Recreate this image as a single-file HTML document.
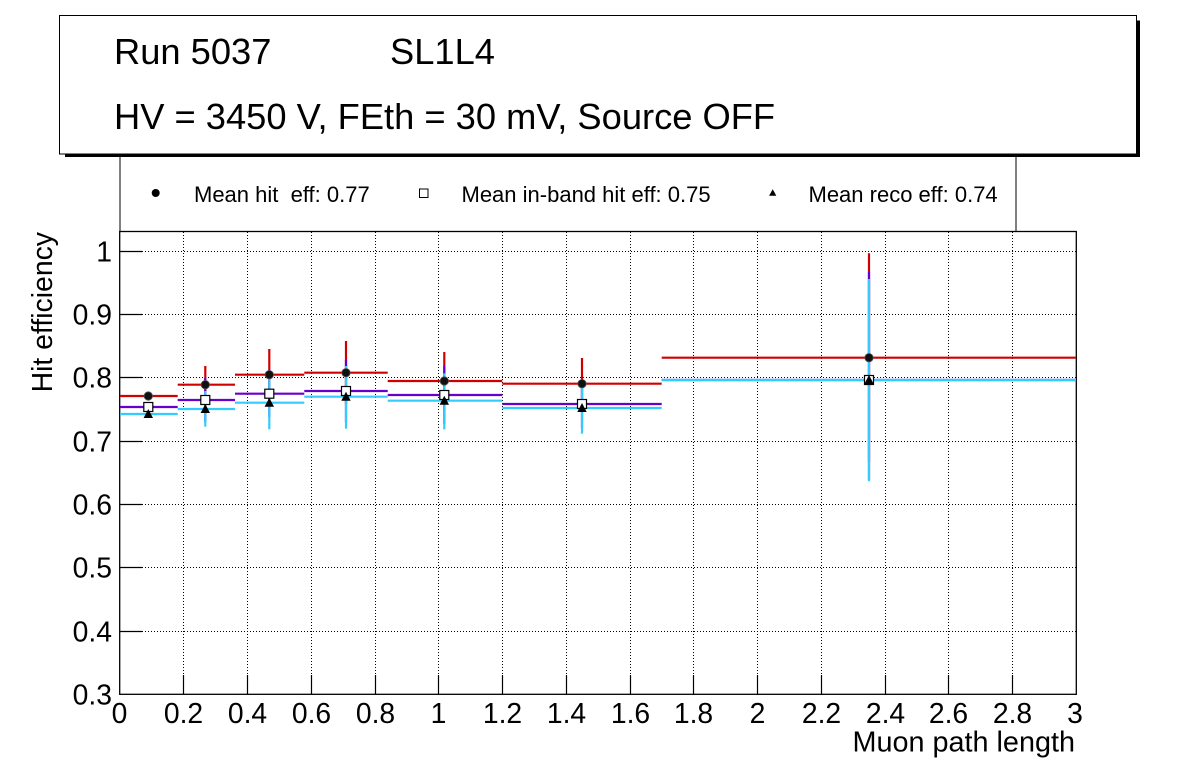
<!DOCTYPE html>
<html>
<head>
<meta charset="utf-8">
<style>
html,body{margin:0;padding:0;background:#fff;}
svg{display:block;}
text{font-family:"Liberation Sans",Arial,sans-serif;fill:#000;}
</style>
</head>
<body>
<svg width="1196" height="772" viewBox="0 0 1196 772" xmlns="http://www.w3.org/2000/svg">
<rect x="0" y="0" width="1196" height="772" fill="#fff"/>

<!-- Legend box -->
<rect x="120" y="150" width="896" height="81.5" fill="#fff" stroke="#000" stroke-width="1"/>
<circle cx="155.7" cy="193" r="4" fill="#000"/>
<text x="194" y="202" font-size="22">Mean hit&#160; eff: 0.77</text>
<rect x="419.5" y="189" width="8.5" height="8.5" fill="#fff" stroke="#000" stroke-width="1"/>
<text x="461.5" y="202" font-size="22">Mean in-band hit eff: 0.75</text>
<polygon points="772.7,189.3 776.3,195.8 769.1,195.8" fill="#000"/>
<text x="808.5" y="202" font-size="22">Mean reco eff: 0.74</text>

<!-- Title box with shadow -->
<rect x="65" y="20.5" width="1075" height="136.5" fill="#000"/>
<rect x="59.5" y="15.5" width="1077" height="138.5" fill="#fff" stroke="#000" stroke-width="1"/>
<text x="114" y="64" font-size="36.3">Run 5037</text>
<text x="390" y="64" font-size="36.3">SL1L4</text>
<text x="114" y="129" font-size="36.3">HV = 3450 V, FEth = 30 mV, Source OFF</text>

<!-- Grid -->
<g stroke="#000" stroke-width="1" stroke-dasharray="1 2" fill="none">
<line x1="183.5" y1="232" x2="183.5" y2="694"/>
<line x1="247.5" y1="232" x2="247.5" y2="694"/>
<line x1="311.5" y1="232" x2="311.5" y2="694"/>
<line x1="375.5" y1="232" x2="375.5" y2="694"/>
<line x1="438.5" y1="232" x2="438.5" y2="694"/>
<line x1="502.5" y1="232" x2="502.5" y2="694"/>
<line x1="566.5" y1="232" x2="566.5" y2="694"/>
<line x1="630.5" y1="232" x2="630.5" y2="694"/>
<line x1="693.5" y1="232" x2="693.5" y2="694"/>
<line x1="757.5" y1="232" x2="757.5" y2="694"/>
<line x1="821.5" y1="232" x2="821.5" y2="694"/>
<line x1="885.5" y1="232" x2="885.5" y2="694"/>
<line x1="948.5" y1="232" x2="948.5" y2="694"/>
<line x1="1012.5" y1="232" x2="1012.5" y2="694"/>
<line x1="121" y1="631.5" x2="1076" y2="631.5"/>
<line x1="121" y1="567.5" x2="1076" y2="567.5"/>
<line x1="121" y1="504.5" x2="1076" y2="504.5"/>
<line x1="121" y1="441.5" x2="1076" y2="441.5"/>
<line x1="121" y1="377.5" x2="1076" y2="377.5"/>
<line x1="121" y1="314.5" x2="1076" y2="314.5"/>
<line x1="121" y1="251.5" x2="1076" y2="251.5"/>
</g>

<!-- Ticks -->
<g stroke="#000" stroke-width="1.2" fill="none">
<line x1="120" y1="631.5" x2="142" y2="631.5"/>
<line x1="120" y1="567.5" x2="142" y2="567.5"/>
<line x1="120" y1="504.5" x2="142" y2="504.5"/>
<line x1="120" y1="441.5" x2="142" y2="441.5"/>
<line x1="120" y1="377.5" x2="142" y2="377.5"/>
<line x1="120" y1="314.5" x2="142" y2="314.5"/>
<line x1="120" y1="251.5" x2="142" y2="251.5"/>
<line x1="183.5" y1="694" x2="183.5" y2="675"/>
<line x1="247.5" y1="694" x2="247.5" y2="675"/>
<line x1="311.5" y1="694" x2="311.5" y2="675"/>
<line x1="375.5" y1="694" x2="375.5" y2="675"/>
<line x1="438.5" y1="694" x2="438.5" y2="675"/>
<line x1="502.5" y1="694" x2="502.5" y2="675"/>
<line x1="566.5" y1="694" x2="566.5" y2="675"/>
<line x1="630.5" y1="694" x2="630.5" y2="675"/>
<line x1="693.5" y1="694" x2="693.5" y2="675"/>
<line x1="757.5" y1="694" x2="757.5" y2="675"/>
<line x1="821.5" y1="694" x2="821.5" y2="675"/>
<line x1="885.5" y1="694" x2="885.5" y2="675"/>
<line x1="948.5" y1="694" x2="948.5" y2="675"/>
<line x1="1012.5" y1="694" x2="1012.5" y2="675"/>
</g>

<!-- Frame -->
<rect x="119.7" y="231.5" width="956.6" height="462.8" fill="none" stroke="#000" stroke-width="1.3"/>

<!-- Series: hit eff (red) -->
<g stroke="#d00000" stroke-width="2.2" fill="none">
<line x1="120" y1="396" x2="177.7" y2="396"/>
<line x1="148.3" y1="392" x2="148.3" y2="400"/>
<line x1="177.7" y1="384.7" x2="235" y2="384.7"/>
<line x1="205.3" y1="366" x2="205.3" y2="403"/>
<line x1="235" y1="374.7" x2="304.3" y2="374.7"/>
<line x1="269.3" y1="349" x2="269.3" y2="400"/>
<line x1="304.3" y1="372.7" x2="387.7" y2="372.7"/>
<line x1="346" y1="341" x2="346" y2="404"/>
<line x1="387.7" y1="381" x2="502.3" y2="381"/>
<line x1="444.3" y1="352" x2="444.3" y2="410"/>
<line x1="502.3" y1="383.7" x2="661.7" y2="383.7"/>
<line x1="582" y1="358" x2="582" y2="409"/>
<line x1="661.7" y1="357.7" x2="1076" y2="357.7"/>
<line x1="869" y1="253.3" x2="869" y2="462"/>
</g>

<!-- Series: in-band (purple) -->
<g stroke="#6600cc" stroke-width="2.2" fill="none">
<line x1="120" y1="407" x2="177.7" y2="407"/>
<line x1="148.3" y1="403" x2="148.3" y2="411"/>
<line x1="177.7" y1="400" x2="235" y2="400"/>
<line x1="205.3" y1="378" x2="205.3" y2="422"/>
<line x1="235" y1="393.7" x2="304.3" y2="393.7"/>
<line x1="269.3" y1="370" x2="269.3" y2="417"/>
<line x1="304.3" y1="391" x2="387.7" y2="391"/>
<line x1="346" y1="360" x2="346" y2="422"/>
<line x1="387.7" y1="395" x2="502.3" y2="395"/>
<line x1="444.3" y1="365.7" x2="444.3" y2="424"/>
<line x1="502.3" y1="404" x2="661.7" y2="404"/>
<line x1="582" y1="380" x2="582" y2="428"/>
<line x1="661.7" y1="380" x2="1076" y2="380"/>
<line x1="869" y1="272" x2="869" y2="480"/>
</g>

<!-- Series: reco (cyan) -->
<g stroke="#33ccff" stroke-width="2.2" fill="none">
<line x1="120" y1="414" x2="177.7" y2="414"/>
<line x1="148.3" y1="410" x2="148.3" y2="418"/>
<line x1="177.7" y1="409" x2="235" y2="409"/>
<line x1="205.3" y1="391" x2="205.3" y2="426.7"/>
<line x1="235" y1="402.7" x2="304.3" y2="402.7"/>
<line x1="269.3" y1="379" x2="269.3" y2="429.3"/>
<line x1="304.3" y1="396.7" x2="387.7" y2="396.7"/>
<line x1="346" y1="366" x2="346" y2="428.7"/>
<line x1="387.7" y1="400.7" x2="502.3" y2="400.7"/>
<line x1="444.3" y1="373.3" x2="444.3" y2="429.3"/>
<line x1="502.3" y1="408" x2="661.7" y2="408"/>
<line x1="582" y1="384" x2="582" y2="433.7"/>
<line x1="661.7" y1="380" x2="1076" y2="380"/>
<line x1="869" y1="279" x2="869" y2="481.3"/>
</g>

<!-- Markers: circles -->
<g fill="#111" stroke="#555" stroke-width="0.8">
<circle cx="148.3" cy="396" r="4.2"/>
<circle cx="205.3" cy="384.7" r="4.2"/>
<circle cx="269.3" cy="374.7" r="4.2"/>
<circle cx="346" cy="372.7" r="4.2"/>
<circle cx="444.3" cy="381" r="4.2"/>
<circle cx="582" cy="383.7" r="4.2"/>
<circle cx="869" cy="357.7" r="4.2"/>
</g>
<!-- Markers: squares -->
<g fill="#fff" stroke="#000" stroke-width="1.2">
<rect x="143.8" y="402.5" width="9" height="9"/>
<rect x="200.8" y="395.5" width="9" height="9"/>
<rect x="264.8" y="389.2" width="9" height="9"/>
<rect x="341.5" y="386.5" width="9" height="9"/>
<rect x="439.8" y="390.5" width="9" height="9"/>
<rect x="577.5" y="399.5" width="9" height="9"/>
<rect x="864.5" y="375.5" width="9" height="9"/>
</g>
<!-- Markers: triangles -->
<g fill="#000">
<polygon points="148.3,409 153,418 143.6,418"/>
<polygon points="205.3,404 210,413 200.6,413"/>
<polygon points="269.3,397.7 274,406.7 264.6,406.7"/>
<polygon points="346,391.7 350.7,400.7 341.3,400.7"/>
<polygon points="444.3,395.7 449,404.7 439.6,404.7"/>
<polygon points="582,403 586.7,412 577.3,412"/>
<polygon points="869,375 873.7,384 864.3,384"/>
</g>

<!-- Y tick labels -->
<g font-size="28.3" text-anchor="end">
<text x="112" y="704.5">0.3</text>
<text x="112" y="641.5">0.4</text>
<text x="112" y="577.5">0.5</text>
<text x="112" y="514.5">0.6</text>
<text x="112" y="451.5">0.7</text>
<text x="112" y="387.5">0.8</text>
<text x="112" y="324.5">0.9</text>
<text x="112" y="261.5">1</text>
</g>
<!-- X tick labels -->
<g font-size="28.3" text-anchor="middle">
<text x="119.5" y="723">0</text>
<text x="183.5" y="723">0.2</text>
<text x="247.5" y="723">0.4</text>
<text x="311.5" y="723">0.6</text>
<text x="375.5" y="723">0.8</text>
<text x="438.5" y="723">1</text>
<text x="502.5" y="723">1.2</text>
<text x="566.5" y="723">1.4</text>
<text x="630.5" y="723">1.6</text>
<text x="693.5" y="723">1.8</text>
<text x="757.5" y="723">2</text>
<text x="821.5" y="723">2.2</text>
<text x="885.5" y="723">2.4</text>
<text x="948.5" y="723">2.6</text>
<text x="1012.5" y="723">2.8</text>
<text x="1075" y="723">3</text>
</g>

<!-- Axis titles -->
<text x="1075" y="751.5" font-size="28.8" text-anchor="end">Muon path length</text>
<text transform="translate(52,232) rotate(-90)" font-size="28.4" text-anchor="end">Hit efficiency</text>
</svg>
</body>
</html>
